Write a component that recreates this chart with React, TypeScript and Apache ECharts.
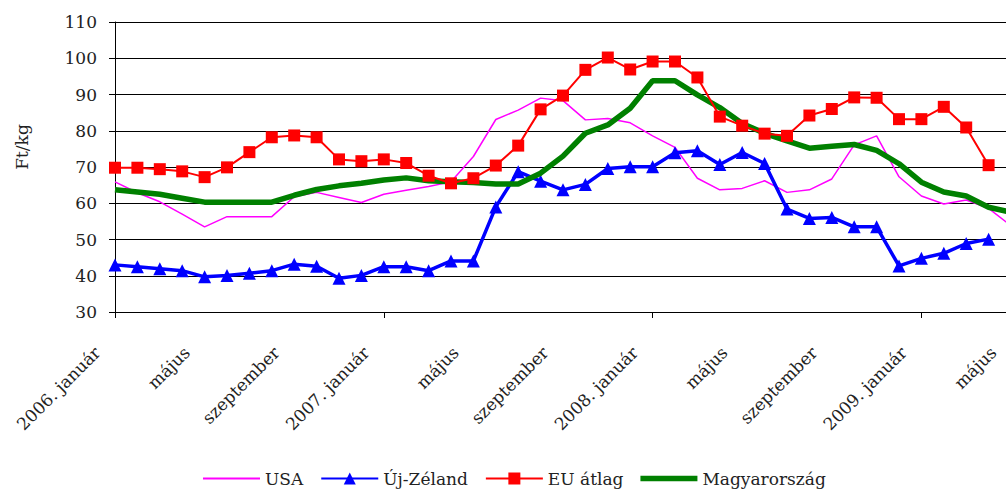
import React, { useEffect, useRef } from "react";
import * as echarts from "echarts";

const categories = [
  "2006. január", "február", "március", "április", "május", "június", "július", "augusztus", "szeptember", "október", "november", "december",
  "2007. január", "február", "március", "április", "május", "június", "július", "augusztus", "szeptember", "október", "november", "december",
  "2008. január", "február", "március", "április", "május", "június", "július", "augusztus", "szeptember", "október", "november", "december",
  "2009. január", "február", "március", "április", "május",
];

const usa = [
  65.9, 62.9, 60.4, 57.0, 53.5, 56.3, 56.3, 56.3, 61.8, 63.0, 61.6, 60.2,
  62.5, 63.6, 64.6, 65.9, 72.9, 83.1, 85.7, 89.0, 88.3, 83.0, 83.4, 82.2,
  78.6, 75.4, 66.9, 63.7, 64.1, 66.2, 63.0, 63.7, 66.7, 76.1, 78.6, 67.3,
  62.0, 59.8, 60.9, 58.6, 53.8,
];

const ujZeland = [
  43.0, 42.5, 41.9, 41.4, 39.7, 40.1, 40.7, 41.4, 43.2, 42.6, 39.3, 40.1,
  42.5, 42.5, 41.4, 44.1, 44.1, 59.0, 68.7, 66.1, 63.7, 65.2, 69.6, 70.1,
  70.1, 73.9, 74.5, 70.7, 74.0, 71.0, 58.4, 55.8, 56.1, 53.5, 53.5, 42.7,
  44.8, 46.2, 48.9, 50.1,
];

const euAtlag = [
  69.8, 69.8, 69.4, 68.8, 67.2, 69.9, 74.1, 78.2, 78.7, 78.2, 72.1, 71.6,
  72.1, 71.1, 67.6, 65.5, 66.9, 70.4, 75.9, 85.9, 89.7, 96.8, 100.2, 96.9,
  99.1, 99.1, 94.7, 83.9, 81.4, 79.2, 78.6, 84.2, 86.0, 89.2, 89.1, 83.2,
  83.2, 86.6, 80.9, 70.5,
];

const magyarorszag = [
  63.7, 63.1, 62.5, 61.4, 60.3, 60.3, 60.3, 60.3, 62.2, 63.8, 64.8, 65.5,
  66.4, 67.0, 66.2, 65.9, 65.7, 65.3, 65.3, 68.3, 73.0, 79.3, 81.6, 86.2,
  93.8, 93.8, 89.9, 86.4, 82.0, 79.3, 77.2, 75.2, 75.7, 76.2, 74.6, 70.9,
  65.8, 63.1, 62.0, 58.9, 57.5,
];

const seriesNames = ["USA", "Új-Zéland", "EU átlag", "Magyarország"];
const yAxisName = "Ft/kg";

const FONT = "DejaVu Serif";
const TEXT = "#222";

export default function App() {
  const ref = useRef<HTMLDivElement>(null);

  useEffect(() => {
    if (!ref.current) return;
    const chart = echarts.init(ref.current, undefined, { renderer: "svg" });
    chart.setOption({
      animation: false,
      backgroundColor: "#fff",
      grid: { left: 115, right: 29, top: 22, bottom: 179 },
      legend: {
        data: [
          { name: seriesNames[0], icon: "path://M0,0 L57,0 L57,2 L0,2 Z" },
          { name: seriesNames[1] },
          { name: seriesNames[2] },
          { name: seriesNames[3], icon: "path://M0,0 L60,0 L60,6 L0,6 Z" },
        ],
        left: 198,
        top: 465,
        itemWidth: 57,
        itemHeight: 15,
        itemGap: 17,
        textStyle: { fontFamily: FONT, fontSize: 17, color: TEXT },
      },
      graphic: [
        {
          type: "text",
          x: 22,
          y: 147,
          rotation: Math.PI / 2,
          style: {
            text: yAxisName,
            fontFamily: FONT,
            fontSize: 17,
            fill: TEXT,
            align: "center",
            verticalAlign: "middle",
          },
        },
      ],
      xAxis: {
        type: "category",
        data: categories,
        boundaryGap: false,
        axisLine: { lineStyle: { color: "#000", width: 1 } },
        axisTick: { interval: 11, length: 6, lineStyle: { color: "#000" } },
        axisLabel: {
          interval: 3,
          rotate: 45,
          margin: 20,
          padding: [0, 25, 0, 0],
          fontFamily: FONT,
          fontSize: 17,
          color: TEXT,
        },
        splitLine: { show: false },
      },
      yAxis: {
        type: "value",
        min: 30,
        max: 110,
        interval: 10,
        axisLine: { show: true, lineStyle: { color: "#000", width: 1 } },
        axisTick: { show: true, length: 6, lineStyle: { color: "#000" } },
        axisLabel: { margin: 18, fontFamily: FONT, fontSize: 17, color: TEXT },
        splitLine: { show: true, lineStyle: { color: "#000", width: 1 } },
      },
      series: [
        {
          name: seriesNames[0],
          type: "line",
          data: usa,
          symbol: "none",
          z: 2,
          itemStyle: { color: "#FF00FF" },
          lineStyle: { color: "#FF00FF", width: 1.5 },
        },
        {
          name: seriesNames[1],
          type: "line",
          data: ujZeland,
          symbol: "triangle",
          symbolSize: 13,
          z: 3,
          itemStyle: { color: "#0000FF" },
          lineStyle: { color: "#0000FF", width: 3.5 },
        },
        {
          name: seriesNames[2],
          type: "line",
          data: euAtlag,
          symbol: "rect",
          symbolSize: 12,
          z: 5,
          itemStyle: { color: "#FF0000" },
          lineStyle: { color: "#FF0000", width: 2 },
        },
        {
          name: seriesNames[3],
          type: "line",
          data: magyarorszag,
          symbol: "none",
          z: 4,
          itemStyle: { color: "#008000" },
          lineStyle: { color: "#008000", width: 5.5 },
        },
      ],
    });
    return () => chart.dispose();
  }, []);

  return (
    <div
      style={{
        position: "fixed",
        left: 0,
        top: 0,
        width: 1006,
        height: 491,
        overflow: "hidden",
        background: "#fff",
      }}
    >
      <div ref={ref} style={{ width: 1040, height: 491 }} />
    </div>
  );
}
